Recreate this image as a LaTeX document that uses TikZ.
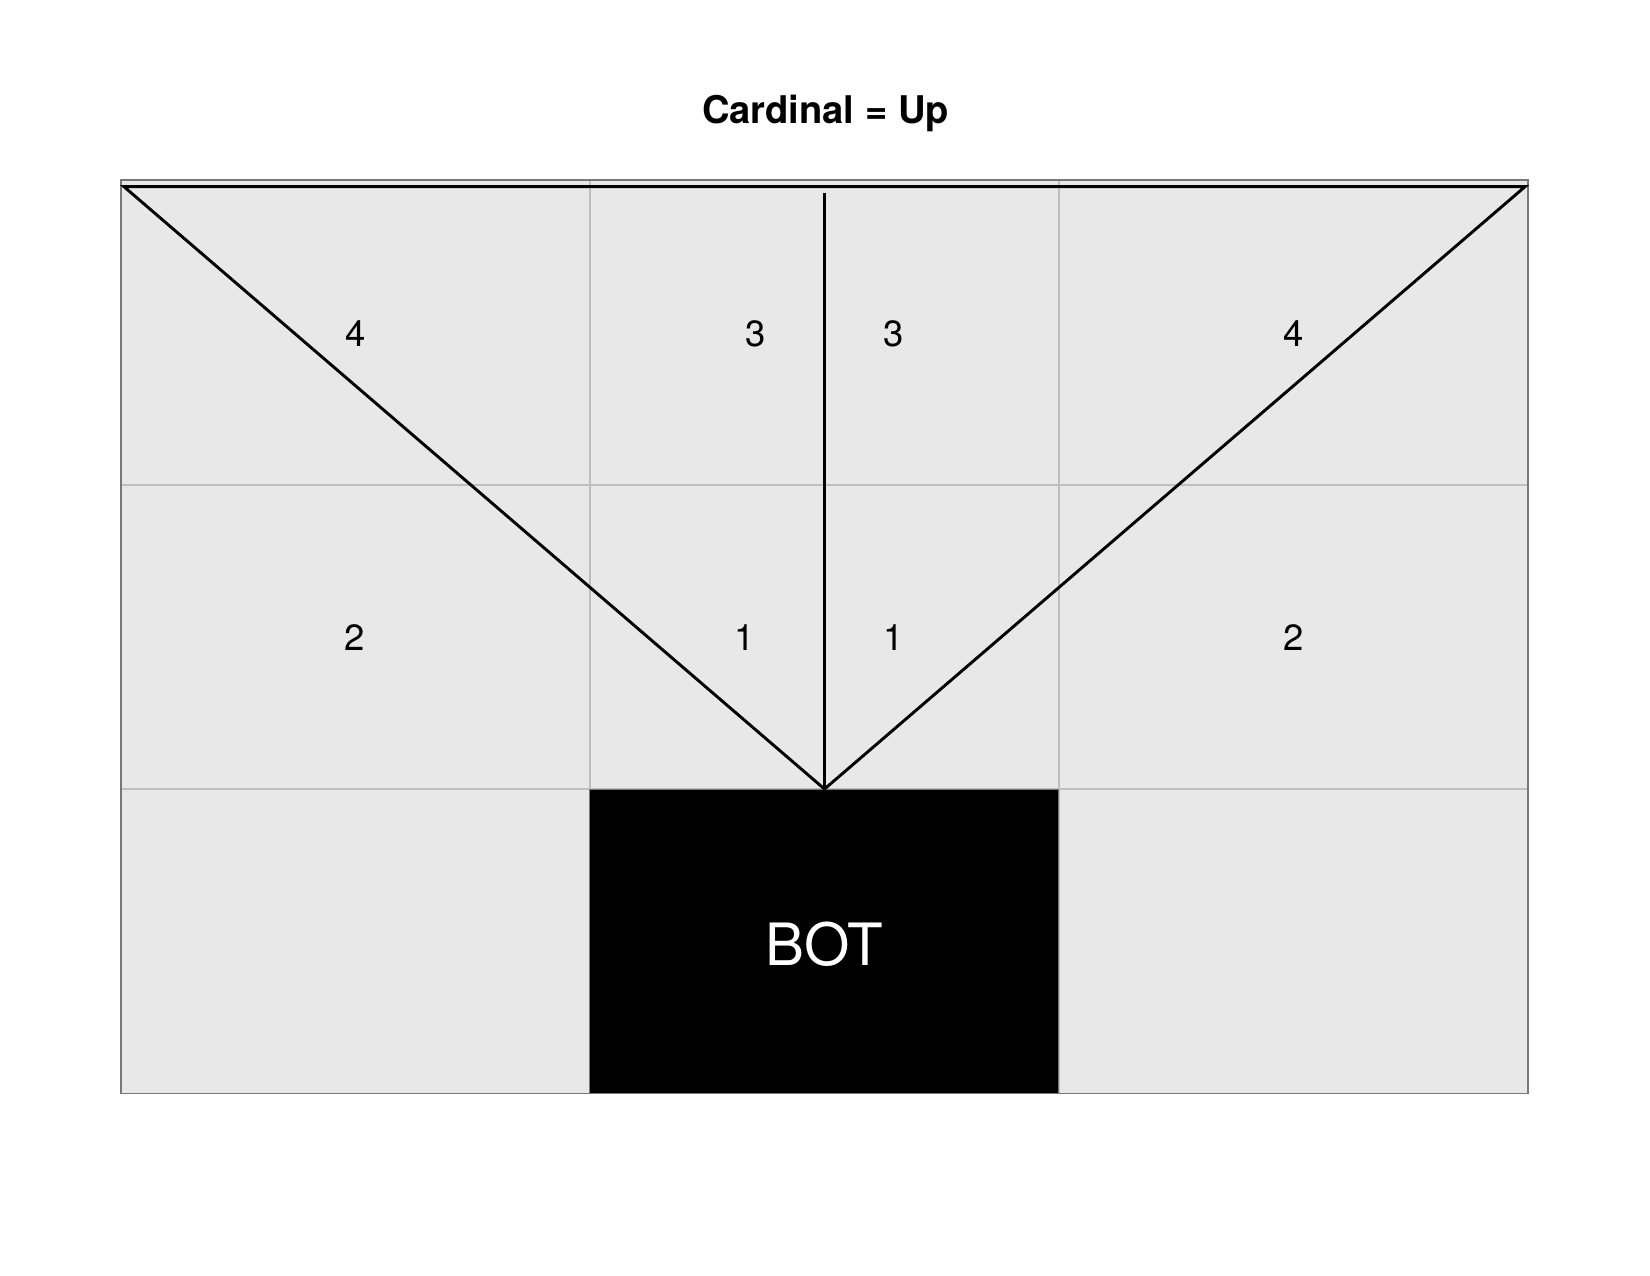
\documentclass[tikz,border=0pt]{standalone}
\usepackage{fontspec}
\setmainfont{TeX Gyre Heros}
\definecolor{cellgray}{RGB}{232,232,232}
\definecolor{gridgray}{RGB}{190,190,190}
\definecolor{bordergray}{RGB}{120,120,120}
\begin{document}
\begin{tikzpicture}[x=0.48pt,y=-0.48pt,
  gridline/.style={draw=gridgray,line width=0.9pt},
  rayline/.style={draw=black,line width=1.4pt},
  numlabel/.style={inner sep=0pt,font=\fontsize{17.5}{20}\selectfont},
  botbox/.style={fill=black,draw=bordergray,line width=0.5pt,minimum width=469*0.48pt,minimum height=304.5*0.48pt,inner sep=0pt}]
\useasboundingbox (0,0) rectangle (1650,1275);
% background cells
\fill[cellgray] (120.7,180) rectangle (1527.7,1093.5);
% grid lines
\draw[gridline] (589.7,180) -- (589.7,1093.5);
\draw[gridline] (1058.7,180) -- (1058.7,1093.5);
\draw[gridline] (120.7,484.7) -- (1527.7,484.7);
\draw[gridline] (120.7,789.3) -- (1527.7,789.3);
% bot box
\node[botbox] (bot) at (824.2,941.4) {};
\node[inner sep=0pt,text=white,font=\fontsize{28}{32}\selectfont] (bottext) at (824.2,944) {BOT};
% outer border
\draw[draw=bordergray,line width=0.9pt] (120.7,180) rectangle (1527.7,1093.5);
% title
\node[anchor=base,inner sep=0pt,font=\fontsize{18.3}{22}\selectfont\bfseries] (title) at (825.5,123.3) {Cardinal = Up};
% rays
\coordinate (tl) at (124,186.7);
\coordinate (tr) at (1525,186.7);
\coordinate (apex) at (824.5,789);
\coordinate (vtop) at (824.5,193);
\draw[rayline,line join=miter] (apex) -- (tl) -- (tr) -- cycle;
\draw[rayline] (vtop) -- (apex);
% labels
\node[numlabel] (l4) at (355.6,333.7) {4};
\node[numlabel] (l3) at (755.5,333.7) {3};
\node[numlabel] (r3) at (893.4,333.7) {3};
\node[numlabel] (r4) at (1293.4,333.7) {4};
\node[numlabel] (l2) at (354.7,637.9) {2};
\node[numlabel] (l1) at (745,637.9) {1};
\node[numlabel] (r1) at (893.4,637.9) {1};
\node[numlabel] (r2) at (1293.4,637.9) {2};
\end{tikzpicture}
\end{document}
